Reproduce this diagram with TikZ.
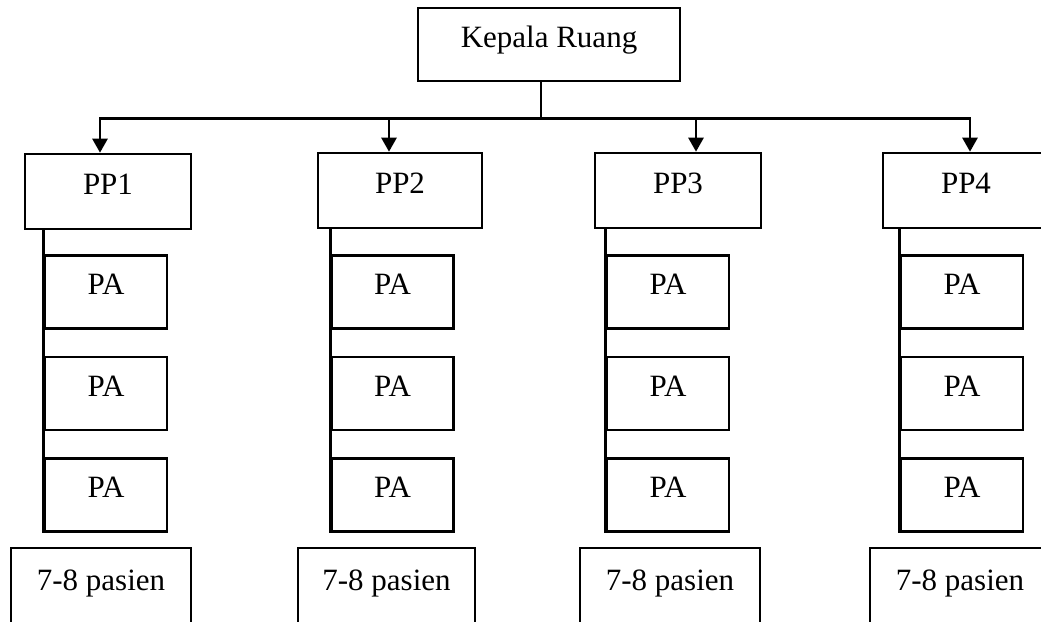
\documentclass[tikz,border=0pt]{standalone}
\usepackage{fontspec}
\setmainfont{Liberation Serif}
\usetikzlibrary{arrows.meta,positioning}
\tikzset{
  box/.style={draw,line width=2.6pt,inner sep=0pt,text height=22pt,text depth=17pt,
              font=\fontsize{31}{36}\selectfont},
  head/.style={box,minimum width=262pt,minimum height=73pt},
  pp/.style={box,minimum width=166pt,minimum height=75pt},
  pa/.style={box,minimum width=122pt,minimum height=73pt},
  pas/.style={box,minimum width=180pt,minimum height=80pt},
  ln/.style={line width=2.6pt},
  fl/.style={ln,-{Triangle[length=14pt,width=15pt]}},
}

\begin{document}
\begin{tikzpicture}[x=1pt, y=-1pt, node distance=26pt]
\useasboundingbox (0,0) rectangle (1041,621);
\node[head] (kr) at (549,44.5) {Kepala Ruang};
\node[pp] (pp1) at (108,191.5) {PP1};
\node[pp, minimum width=164pt] (pp2) at (400,190.5) {PP2};
\node[pp] (pp3) at (678,190.5) {PP3};
\node[pp] (pp4) at (966,190.5) {PP4};
% PA per PP
\node[pa] (pa1a) at (106,292) {PA};
\node[pa, below=of pa1a] (pa1b) {PA};
\node[pa, below=of pa1b] (pa1c) {PA};
\node[pa] (pa2a) at (392.5,292) {PA};
\node[pa, below=of pa2a] (pa2b) {PA};
\node[pa, below=of pa2b] (pa2c) {PA};
\node[pa] (pa3a) at (668,292) {PA};
\node[pa, below=of pa3a] (pa3b) {PA};
\node[pa, below=of pa3b] (pa3c) {PA};
\node[pa] (pa4a) at (962,292) {PA};
\node[pa, below=of pa4a] (pa4b) {PA};
\node[pa, below=of pa4b] (pa4c) {PA};
% pasien
\node[pas] (ps1) at (101,588) {7-8 pasien};
\node[pas, minimum width=177pt] (ps2) at (386.5,588) {7-8 pasien};
\node[pas] (ps3) at (670,588) {7-8 pasien};
\node[pas] (ps4) at (960,588) {7-8 pasien};
% connectors
\draw[ln] ([xshift=-8pt]kr.south) -- ++(0,36) coordinate (hub);
\draw[fl] (hub) -| ([xshift=-8pt]pp1.north);
\draw[fl] (hub) -| ([xshift=4pt]pp4.north);
\draw[fl] ([xshift=-11pt]pp2.north |- hub) -- ([xshift=-11pt]pp2.north);
\draw[fl] ([xshift=18pt]pp3.north |- hub) -- ([xshift=18pt]pp3.north);
\draw[ln] (pa1a.west |- pp1.south) -- (pa1c.south west);
\draw[ln] (pa2a.west |- pp2.south) -- (pa2c.south west);
\draw[ln] (pa3a.west |- pp3.south) -- (pa3c.south west);
\draw[ln] (pa4a.west |- pp4.south) -- (pa4c.south west);
\end{tikzpicture}
\end{document}
